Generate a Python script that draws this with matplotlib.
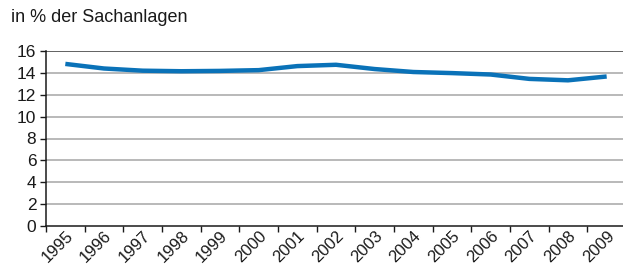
import matplotlib
matplotlib.use("Agg")
import matplotlib.pyplot as plt

years = ["1995", "1996", "1997", "1998", "1999", "2000", "2001", "2002",
         "2003", "2004", "2005", "2006", "2007", "2008", "2009"]
values = [14.82, 14.4, 14.2, 14.15, 14.18, 14.25, 14.62, 14.74,
          14.35, 14.08, 13.98, 13.85, 13.45, 13.32, 13.67]
yticks = [0, 2, 4, 6, 8, 10, 12, 14, 16]

plt.rcParams['font.family'] = ['Liberation Sans', 'DejaVu Sans']

fig = plt.figure(figsize=(6.23, 2.67), dpi=100)
ax = fig.add_axes([46/623, (267-226)/267, 580/623, (226-51)/267])

x = list(range(len(years)))
for yv in yticks[1:-1]:
    ax.axhline(yv, color='#a6a6a6', lw=1.1, zorder=1)
ax.axhline(16, color='#555555', lw=1.3, zorder=1)

ax.plot(x, values, color='#0a72b8', lw=3.2, solid_capstyle='butt', zorder=3)

ax.set_xlim(-0.5, len(years) - 0.5)
ax.set_ylim(0, 16)
ax.set_yticks(yticks)
ax.set_yticklabels([str(v) for v in yticks], fontsize=12.5, color='#1a1a1a')
ax.set_xticks([i - 0.5 for i in range(len(years) + 1)], minor=False)
ax.set_xticklabels([''] * (len(years) + 1))
ax.set_xticks(x, minor=True)
ax.set_xticklabels(years, minor=True, rotation=45, ha='right',
                   rotation_mode='anchor', fontsize=12, color='#1a1a1a')
ax.tick_params(axis='x', which='minor', length=0, pad=1.5)
ax.tick_params(axis='x', which='major', length=4, width=1, color='#1a1a1a', direction='out')
ax.tick_params(axis='y', length=4, width=1, color='#1a1a1a', pad=3)

for s in ['top', 'right']:
    ax.spines[s].set_visible(False)
for s in ['left', 'bottom']:
    ax.spines[s].set_color('#1a1a1a')
    ax.spines[s].set_linewidth(1.1)

fig.text(11/623, 1 - 22.5/267, "in % der Sachanlagen", fontsize=13, color='#1a1a1a',
         ha='left', va='baseline')

fig.savefig("out.png", dpi=100)
